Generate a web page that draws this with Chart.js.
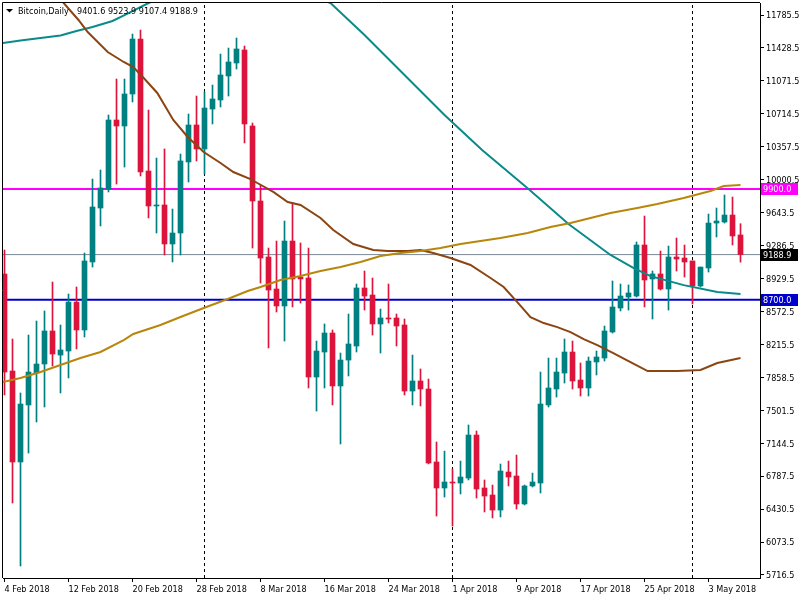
<!DOCTYPE html>
<html><head><meta charset="utf-8">
<script src="https://cdn.jsdelivr.net/npm/chart.js@4.4.0/dist/chart.umd.min.js"></script>
<style>html,body{margin:0;padding:0;background:#fff}canvas{display:block}</style>
</head><body>
<canvas id="c" width="800" height="600"></canvas>
<script>
// Daily candles, 4 Feb 2018 .. 7 May 2018 (index 0..92)
const open  = [8979,7927,6941,7559,7905,8003,8361,8100,8144,8674,8372,9109,9694,9900,10648,10583,10930,11526,10095,9716,9727,9304,9423,10193,10594,10334,10767,10865,11125,11266,11407,10583,9770,9163,8816,8632,9336,8946,8935,7862,8133,8339,7765,8046,8198,8827,8751,8437,8502,8502,8426,7710,7819,7732,6941,6659,6724,6713,6767,7233,6659,6583,6420,6832,6789,6486,6681,6713,7559,7732,7905,8133,7829,7743,8025,8068,8350,8610,8729,8740,9293,8925,8979,8816,9163,9152,9120,8849,9044,9531,9542,9618,9401.6];
const high  = [9239,8274,7689,8317,8469,8578,8892,8426,8762,8838,9206,10008,10106,10702,11092,11092,11580,11623,10756,10236,10334,9683,10279,10713,10908,10952,11027,11363,11428,11537,11450,10615,9943,9260,9336,9553,9748,9315,9260,8252,8437,8372,8122,8545,8870,9011,8935,8599,8870,8545,8491,8100,7949,7840,7158,7059,6865,6951,7342,7277,6746,6691,6919,6951,7016,6691,6821,7916,8068,8068,8274,8252,8014,8079,8144,8415,8903,8870,8860,9326,9607,9011,9228,9282,9369,9293,9120,9054,9629,9694,9835,9813,9523.9];
const low   = [7667,6496,5813,7038,7374,7537,7981,7689,7851,8166,8296,9054,9499,9868,9954,10138,10843,10041,9586,9423,9185,9109,9185,9976,10204,10063,10605,10789,10908,11201,10399,9260,8881,8177,8567,8252,8621,8664,7743,7493,7743,7559,7136,7873,8133,8588,8317,8122,8448,8198,7667,7559,7548,6920,6355,6561,6247,6594,6746,6550,6399,6334,6345,6681,6431,6475,6670,6605,7537,7645,7797,7732,7656,7656,7884,8035,8339,8578,8588,8729,8621,8491,8805,8588,9011,8946,8653,8838,9000,9380,9531,9293,9107.4];
const close = [7916,6941,7569,7916,8003,8361,8111,8155,8674,8372,9120,9705,9911,10648,10583,10930,11526,10084,9716,9727,9304,9423,10204,10594,10334,10778,10876,11136,11277,11418,10605,9770,9152,8805,8632,9336,8925,8925,7862,8144,8339,7765,8046,8220,8827,8740,8437,8502,8491,8415,7710,7819,7732,6930,6659,6724,6713,6778,7233,6648,6572,6420,6843,6778,6486,6681,6724,7569,7743,7916,8133,7819,7743,8035,8079,8361,8621,8740,8773,9293,8914,8979,8816,9163,9141,9109,8849,9054,9531,9553,9618,9391,9188.9];

// x-axis tick positions (day index) and labels
const tickIdx    = [0,8,16,24,32,40,48,56,64,72,80,88];
const tickLabels = ['4 Feb 2018','12 Feb 2018','20 Feb 2018','28 Feb 2018','8 Mar 2018','16 Mar 2018','24 Mar 2018','1 Apr 2018','9 Apr 2018','17 Apr 2018','25 Apr 2018','3 May 2018'];
// y-axis ticks
const yTicks = [5716.5,6073.5,6430.5,6787.5,7144.5,7501.5,7858.5,8215.5,8572.5,8929.5,9286.5,9643.5,10000.5,10357.5,10714.5,11071.5,11428.5,11785.5];
// month separators (1 Mar, 1 Apr, 1 May)
const monthStarts = [25,56,86];
// horizontal levels
const levels      = [9900.0, 9188.9, 8700.0];
const levelLine   = ['#FF00FF','#7A8896','#0000CD'];
const levelBox    = ['#FF00FF','#000000','#0000CD'];
const levelWidth  = [2,1,2];

// moving averages: [day index, value]
const maTeal = [[-0.2,11483],[2,11510],[4.5,11537],[7,11564],[9,11613],[11,11656],[13.5,11721],[15,11786],[18,11916],[21,12020],[26,12120],[31,12140],[36,12060],[40.75,11916],[45,11569],[50,11136],[55,10702],[59.7,10323],[65.5,9900],[70.5,9520],[75.75,9185],[78.6,9044],[80.75,8956],[84.9,8858],[89.1,8783],[92,8761]];
const maBrown = [[6,12060],[7.4,11916],[9.25,11732],[10.4,11602],[12.9,11385],[14.9,11277],[16.1,11222],[17.4,11103],[19.1,10941],[21.1,10648],[22.9,10464],[24.9,10301],[27,10182],[28.6,10084],[30.75,10008],[31.6,9965],[33.6,9868],[35.4,9759],[37,9727],[39.5,9586],[41.1,9455],[43.6,9304],[46.1,9239],[47.9,9228],[50.4,9228],[52,9239],[53.6,9206],[55.75,9152],[58.25,9076],[60.75,8935],[62.4,8838],[64.1,8674],[65.75,8511],[67.4,8447],[69.1,8403],[70.75,8349],[72.4,8273],[74.1,8208],[76.1,8121],[78.25,8024],[80.4,7927],[84.1,7927],[87,7938],[89.1,8013],[92,8068]];
const maGold = [[-0.2,7808],[2,7851],[4.5,7916],[7,7992],[9.5,8068],[12,8133],[14.9,8263],[16.1,8328],[19.5,8426],[22,8513],[24.9,8610],[27.9,8708],[30.4,8794],[32,8838],[34.5,8914],[37,8957],[39.5,9011],[42,9054],[44.5,9108],[47,9173],[49.5,9206],[52,9228],[54.5,9261],[57,9304],[59.5,9336],[62,9369],[65.4,9423],[68.25,9488],[70.75,9531],[73.25,9585],[75.75,9639],[79.1,9694],[81.6,9737],[84.9,9802],[88.25,9878],[89.9,9932],[92,9943]];

const header = ['Bitcoin,Daily', '9401.6 9523.9 9107.4 9188.9'];

const X_MIN = -0.1875, X_MAX = 94.4375, Y_MIN = 5683.3, Y_MAX = 11916.3;
const UP = '#008080', DOWN = '#DC143C';
const FONT = {family: "'DejaVu Sans Condensed','DejaVu Sans',sans-serif", size: 9};

const colors = open.map((o,i)=> close[i] >= o ? UP : DOWN);
const datasets = [];

levels.forEach((v,k)=>{
  datasets.push({type:'line', data:[{x:X_MIN,y:v},{x:X_MAX,y:v}], borderColor:levelLine[k], borderWidth:levelWidth[k], pointRadius:0, order:30});
});
monthStarts.forEach(m=>{
  datasets.push({type:'line', data:[{x:m,y:Y_MIN},{x:m,y:Y_MAX}], borderColor:'#000', borderWidth:1, borderDash:[3,3], pointRadius:0, order:31});
});
datasets.push({type:'bar', data: open.map((o,i)=>({x:i, y:[low[i], high[i]]})), backgroundColor: colors, barThickness:1, grouped:false, borderWidth:0, order:20});
datasets.push({type:'bar', data: open.map((o,i)=>({x:i, y:[o, close[i]]})), backgroundColor: colors, barThickness:5, grouped:false, borderWidth:0, minBarLength:1, order:10});
[[maGold,'#B8860B'],[maBrown,'#8B4513'],[maTeal,'#0A8A8A']].forEach(([d,c])=>{
  datasets.push({type:'line', data:d.map(p=>({x:p[0],y:p[1]})), borderColor:c, borderWidth:2, pointRadius:0, tension:0, order:0});
});

const overlay = {
  id:'overlay',
  afterDraw(chart){
    const ctx = chart.ctx, a = chart.chartArea, ys = chart.scales.y;
    ctx.save();
    ctx.strokeStyle = '#000'; ctx.lineWidth = 1;
    ctx.beginPath();
    ctx.moveTo(a.left-0.5, a.bottom); ctx.lineTo(a.left-0.5, a.top-0.5); ctx.lineTo(a.right, a.top-0.5);
    ctx.stroke();
    // header
    ctx.fillStyle = '#000';
    ctx.beginPath(); ctx.moveTo(6,9); ctx.lineTo(13,9); ctx.lineTo(9.5,12.5); ctx.closePath(); ctx.fill();
    ctx.font = "9px 'DejaVu Sans Condensed','DejaVu Sans',sans-serif";
    ctx.textBaseline = 'middle'; ctx.textAlign = 'left';
    ctx.fillText(header[0], 18, 11.5);
    ctx.fillText(header[1], 77, 11.5);
    // level boxes on axis
    levels.forEach((v,k)=>{
      const y = Math.round(ys.getPixelForValue(v));
      ctx.fillStyle = levelBox[k];
      ctx.fillRect(761, y-6, 37, 12);
      ctx.fillStyle = '#fff';
      ctx.fillText(v.toFixed(1), 763, y+0.5);
    });
    ctx.restore();
  }
};

new Chart(document.getElementById('c'), {
  type:'bar',
  data:{datasets},
  options:{
    responsive:false, animation:false, devicePixelRatio:1,
    layout:{padding:{left:3, top:3, right:0, bottom:0}, autoPadding:false},
    plugins:{legend:{display:false}, tooltip:{enabled:false}},
    scales:{
      x:{type:'linear', min:X_MIN, max:X_MAX, offset:false, position:'bottom',
        grid:{display:true, offset:false, drawOnChartArea:false, drawTicks:true, tickLength:4, tickColor:'#000', color:'#000'},
        border:{display:true, color:'#000', width:1},
        ticks:{align:'start', padding:2, maxRotation:0, autoSkip:false, font:FONT, color:'#000',
          callback:(v)=>{ const k = tickIdx.indexOf(v); return k>=0 ? tickLabels[k] : ''; }},
        afterBuildTicks:(ax)=>{ ax.ticks = tickIdx.map(v=>({value:v})); },
        afterFit:(ax)=>{ ax.height = 22; ax.paddingLeft = 0; ax.paddingRight = 0; ax.paddingTop = 0; ax.paddingBottom = 0; }
      },
      y:{type:'linear', position:'right', min:Y_MIN, max:Y_MAX, beginAtZero:false,
        grid:{display:true, drawOnChartArea:false, drawTicks:true, tickLength:4, tickColor:'#000'},
        border:{display:true, color:'#000', width:1},
        ticks:{padding:2, labelOffset:1, font:FONT, color:'#000', callback:(v)=>Number(v).toFixed(1)},
        afterBuildTicks:(ax)=>{ ax.ticks = yTicks.map(v=>({value:v})); },
        afterFit:(ax)=>{ ax.width = 40; ax.paddingLeft = 0; ax.paddingRight = 0; ax.paddingTop = 0; ax.paddingBottom = 0; }
      }
    }
  },
  plugins:[overlay]
});
</script>
</body></html>
